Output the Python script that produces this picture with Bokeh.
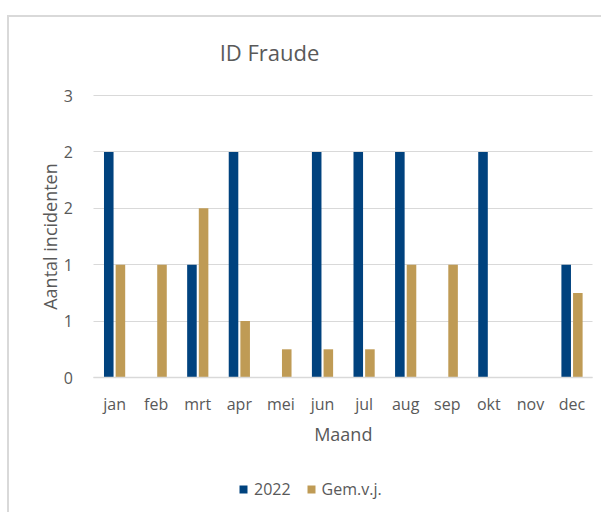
import math
from bokeh.plotting import figure
from bokeh.models import (Range1d, Legend, LegendItem, Label, Grid,
                          ColumnDataSource, FixedTicker)
from bokeh.transform import dodge
from bokeh.embed import file_html
from bokeh.resources import INLINE

months = ["jan", "feb", "mrt", "apr", "mei", "jun", "jul", "aug", "sep", "okt", "nov", "dec"]
v2022 = [2, 0, 1, 2, 0, 2, 2, 2, 0, 2, 0, 1]
gem = [1, 1, 1.5, 0.5, 0.25, 0.25, 0.25, 1, 1, 0, 0, 0.75]
y_ticks = [0, 0.5, 1, 1.5, 2, 2.5]
y_tick_labels = ["0", "1", "1", "2", "2", "3"]

TXT = "#595959"
FONT = "Open Sans"
BLUE = "#00427E"
GOLD = "#BF9B55"
GRID = "#d9d9d9"

xs = list(range(len(months)))
src = ColumnDataSource(dict(x=xs, a=v2022, g=gem))

# pixel geometry (page coordinates) of the plotting area
PX_L, PX_R, PX_T, PX_B = 93.3, 592.3, 95.0, 377.0
CAN_X0, CAN_Y0, W, H = 9, 17, 594, 497
x_lo, x_hi = -0.5, len(months) - 0.5
y_lo, y_hi = y_ticks[0], y_ticks[-1]
sx = (PX_R - PX_L) / (x_hi - x_lo)
sy = (PX_B - PX_T) / (y_hi - y_lo)

p = figure(x_range=Range1d(x_lo - (PX_L - CAN_X0) / sx, x_hi + (CAN_X0 + W - PX_R) / sx),
           y_range=Range1d(y_lo - (CAN_Y0 + H - PX_B) / sy, y_hi + (PX_T - CAN_Y0) / sy),
           width=W, height=H, output_backend="svg", toolbar_location=None,
           min_border=0, min_border_left=0, min_border_right=0,
           min_border_top=0, min_border_bottom=0)
p.styles = {"margin-left": "7px", "margin-top": "15px",
            "border-left": "2px solid #d9d9d9", "border-top": "2px solid #d9d9d9"}
p.outline_line_color = None
p.title.visible = False

# grid lines (y only), limited to the plotting area
p.xgrid.grid_line_color = None
p.ygrid.grid_line_color = None
if "cross_bounds" in Grid.properties():
    g = Grid(dimension=1, ticker=FixedTicker(ticks=y_ticks), grid_line_color=GRID,
             bounds=(y_lo, y_hi), cross_bounds=(x_lo, x_hi))
    p.add_layout(g)
else:
    p.segment(x0=[x_lo] * len(y_ticks), x1=[x_hi] * len(y_ticks), y0=y_ticks, y1=y_ticks,
              line_color=GRID, line_width=1)

r1 = p.vbar(x=dodge("x", -0.14), top="a", width=0.23,
            source=src, fill_color=BLUE, line_color=None)
r2 = p.vbar(x=dodge("x", 0.14), top="g", width=0.23,
            source=src, fill_color=GOLD, line_color=None)

# axes fixed inside the frame
xa = p.xaxis[0]
xa.fixed_location = y_lo
xa.bounds = (x_lo, x_hi)
xa.ticker = FixedTicker(ticks=xs)
xa.major_label_overrides = {i: m for i, m in zip(xs, months)}
xa.axis_line_color = GRID
xa.axis_line_width = 1.5
xa.major_tick_line_color = None
xa.minor_tick_line_color = None
xa.major_label_standoff = 9

ya = p.yaxis[0]
ya.fixed_location = x_lo
ya.bounds = (y_lo, y_hi)
ya.ticker = FixedTicker(ticks=y_ticks)
ya.major_label_overrides = {t: l for t, l in zip(y_ticks, y_tick_labels)}
ya.axis_line_color = None
ya.major_tick_line_color = None
ya.minor_tick_line_color = None
ya.major_label_standoff = 15

for ax in (xa, ya):
    ax.major_label_text_font = FONT
    ax.major_label_text_font_size = "16px"
    ax.major_label_text_color = TXT

# titles
p.add_layout(Label(x=x_lo + (269 - PX_L) / sx, y=y_lo + (PX_B - 51) / sy, text="ID Fraude",
                   text_align="center", text_baseline="middle", text_font=FONT,
                   text_font_size="22px", text_color=TXT))
p.add_layout(Label(x=(x_lo + x_hi) / 2, y=y_lo - (433 - PX_B) / sy, text="Maand",
                   text_align="center", text_baseline="middle", text_font=FONT,
                   text_font_size="18px", text_color=TXT))
p.add_layout(Label(x=x_lo - (PX_L - 49) / sx, y=(y_lo + y_hi) / 2, text="Aantal incidenten",
                   angle=math.pi / 2, text_align="center", text_baseline="middle",
                   text_font=FONT, text_font_size="18px", text_color=TXT))

legend = Legend(items=[LegendItem(label="2022", renderers=[r1]),
                       LegendItem(label="Gem.v.j.", renderers=[r2])],
                orientation="horizontal", location=(238 - CAN_X0, CAN_Y0 + H - 500),
                padding=0, margin=0, spacing=15, glyph_width=10, glyph_height=10,
                label_height=20, label_standoff=6, label_text_font=FONT,
                label_text_font_size="16px", label_text_color=TXT,
                border_line_color=None, background_fill_alpha=0)
p.add_layout(legend, "center")

open("out.html", "w").write(file_html(p, INLINE))
